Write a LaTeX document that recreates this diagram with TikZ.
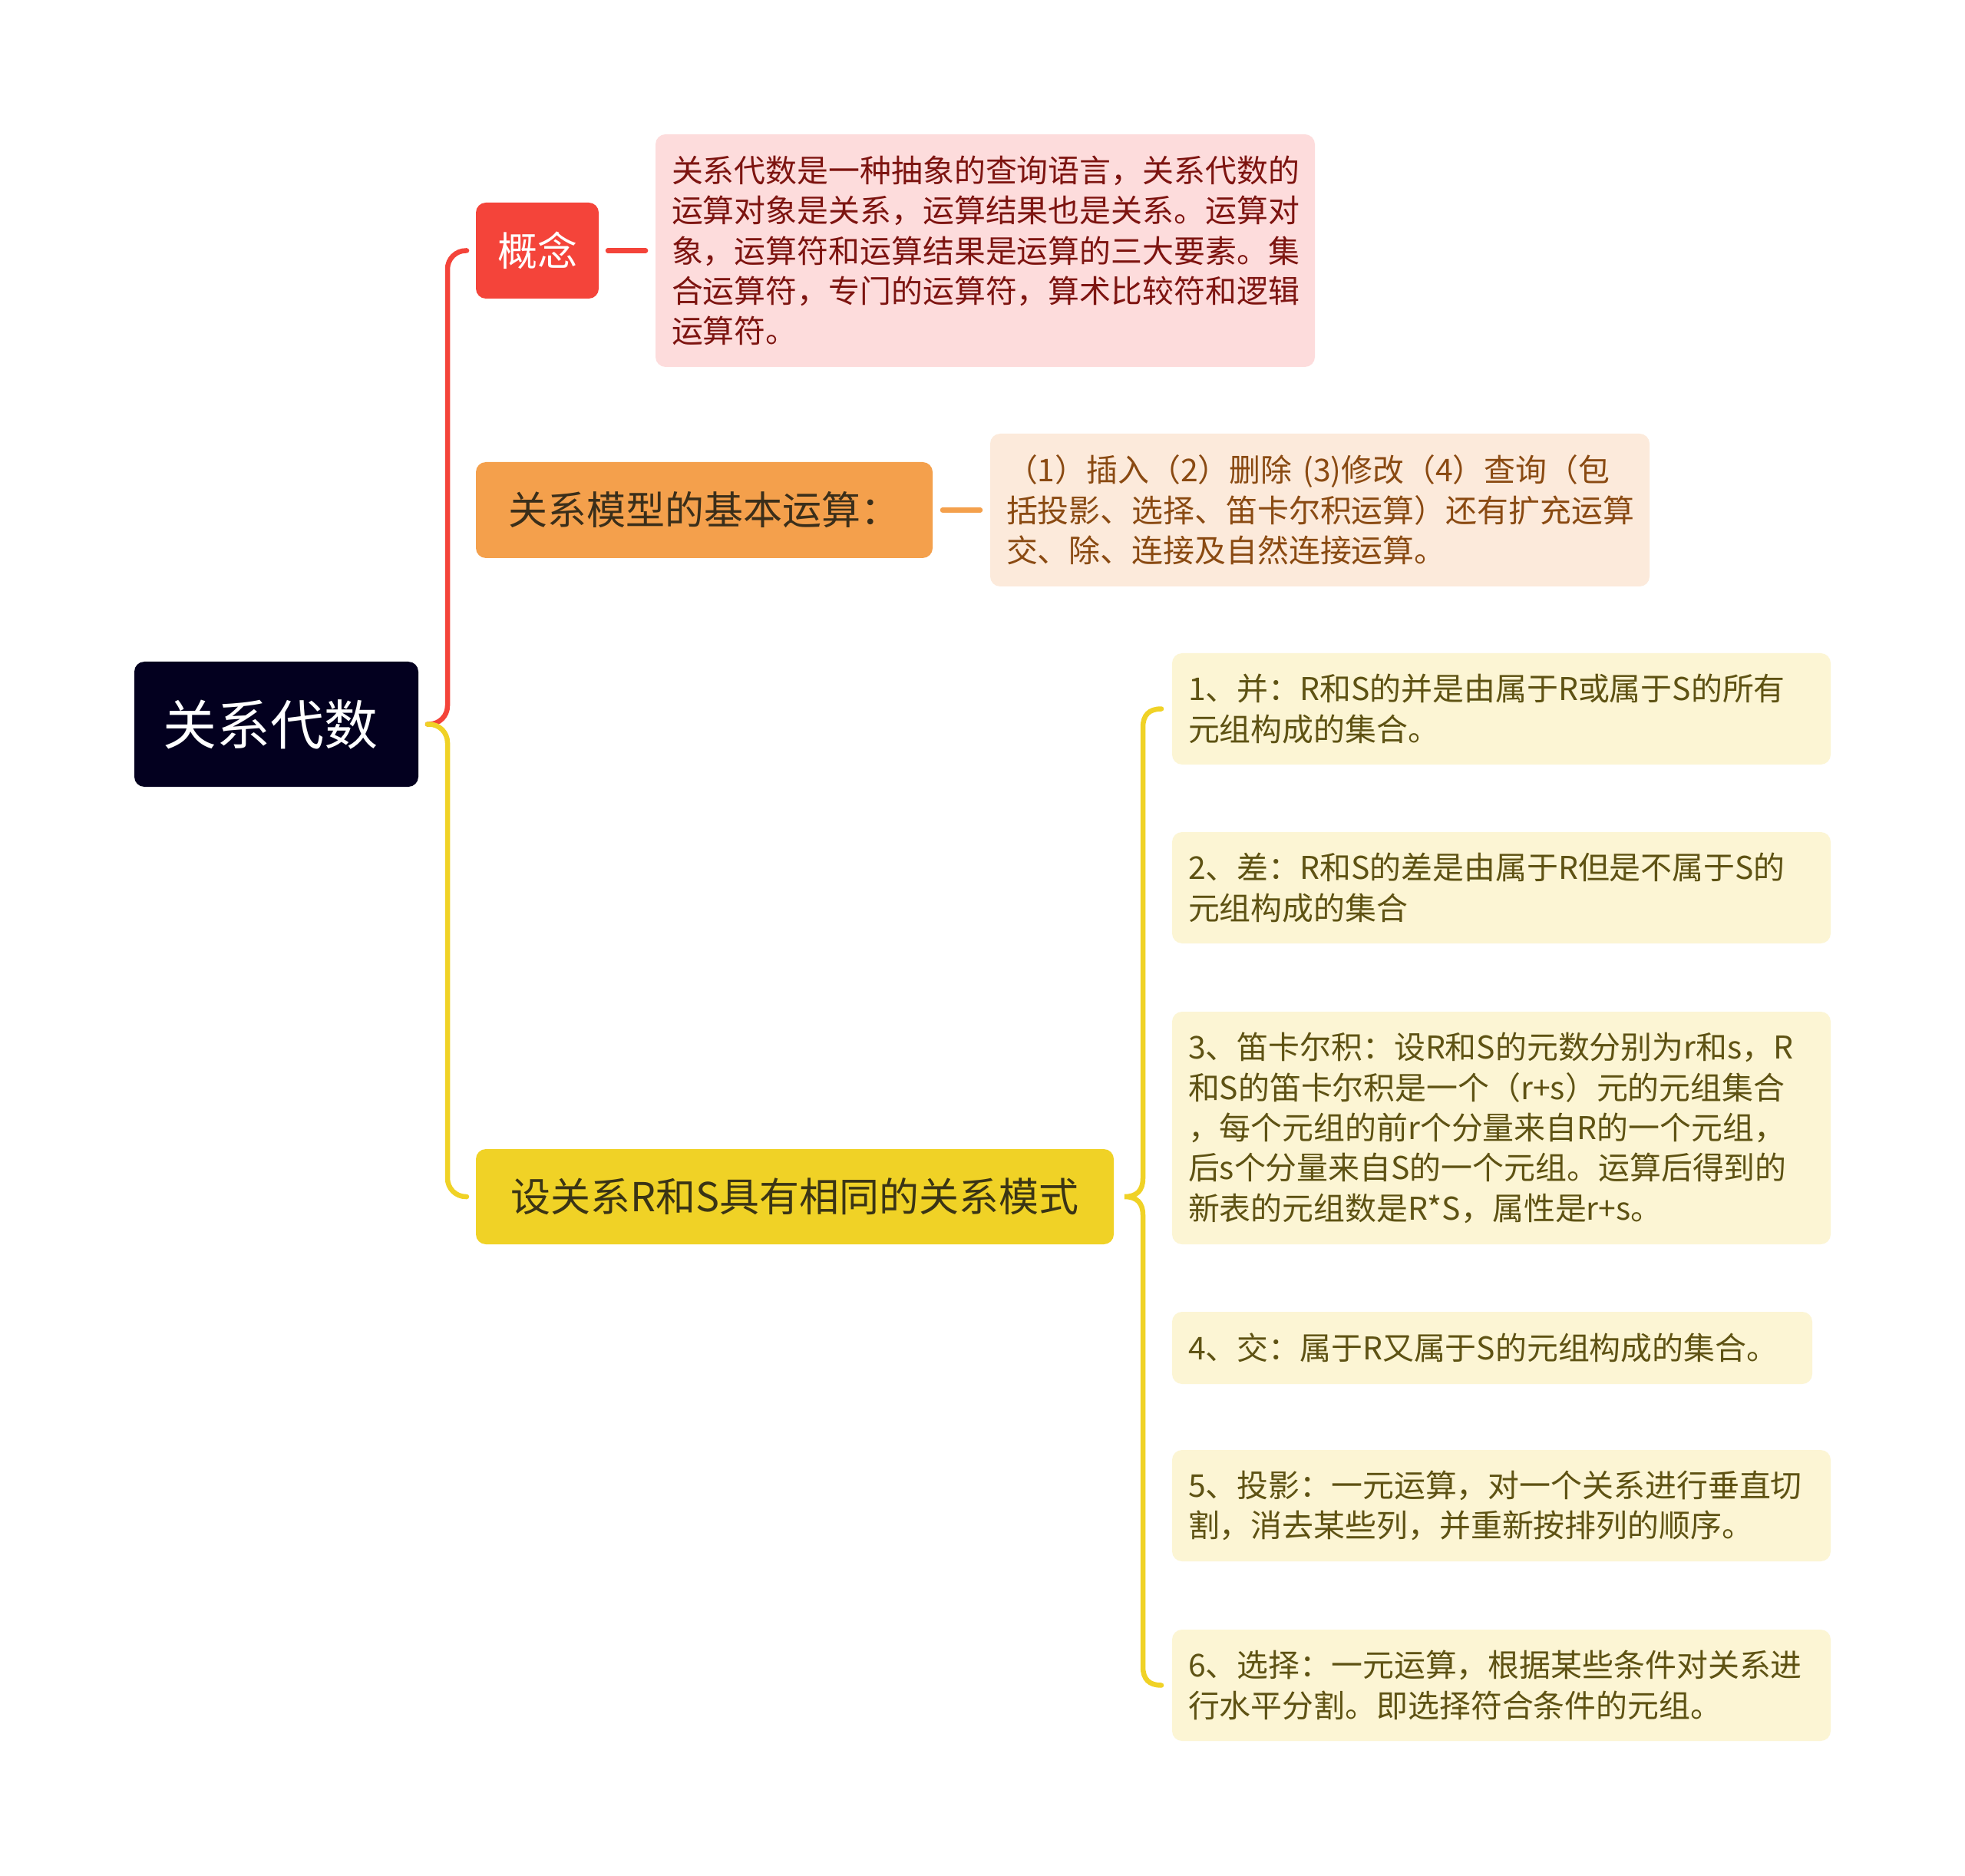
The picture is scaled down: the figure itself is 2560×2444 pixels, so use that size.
\documentclass[tikz,border=0pt]{standalone}
\usepackage{fontspec}
\setmainfont{Noto Sans CJK SC}
\usetikzlibrary{calc}
\definecolor{rootc}{HTML}{03001F}
\definecolor{redc}{HTML}{F4443A}
\definecolor{orgc}{HTML}{F4A04C}
\definecolor{ylwc}{HTML}{F0D226}
\definecolor{pinkfill}{HTML}{FDDCDC}
\definecolor{pinktext}{HTML}{7D1410}
\definecolor{peachfill}{HTML}{FCEADB}
\definecolor{peachtext}{HTML}{8A4A12}
\definecolor{creamfill}{HTML}{FCF5D4}
\definecolor{creamtext}{HTML}{5E5213}
\definecolor{darktext}{HTML}{3A2E1A}
\definecolor{ylwtext}{HTML}{3A3415}
\begin{document}
\begin{tikzpicture}[x=0.5pt,y=-0.5pt,
  box/.style={rounded corners=6.5pt, inner sep=0pt, outer sep=0pt},
  topic/.style={box, align=center},
  desc/.style={box, align=left, inner xsep=10.5pt, text width=#1,
    font=\fontsize{20.45}{26.2}\selectfont},
  child/.style={desc=#1, fill=creamfill, text=creamtext},
  redln/.style={draw=redc, line width=3.25pt, line cap=round},
  orgln/.style={draw=orgc, line width=3.25pt, line cap=round},
  ylwln/.style={draw=ylwc, line width=3.25pt, line cap=round}]
\path[use as bounding box, fill=white] (0,0) rectangle (2560,2444);

% root
\node[topic, fill=rootc, text=white, minimum width=185pt, minimum height=81.5pt,
  font=\fontsize{35}{40}\selectfont] (root) at (360,943.5) {\makebox[140pt][l]{\hspace*{-4pt}关系代数}};

% level 1
\node[topic, fill=redc, text=white, minimum width=80pt, minimum height=62.5pt,
  font=\fontsize{26}{30}\selectfont] (gn) at (700,326.5) {概念};
\node[topic, fill=orgc, text=darktext, minimum width=297.5pt, minimum height=62.5pt,
  font=\fontsize{25.5}{30}\selectfont] (om) at (917.5,664.5) {关系模型的基本运算：};
\node[topic, fill=ylwc, text=ylwtext, minimum width=415.5pt, minimum height=62pt,
  font=\fontsize{26}{30}\selectfont] (sd) at (1035.5,1559) {设关系R和S具有相同的关系模式};

% level 2
\node[desc=408.5pt, fill=pinkfill, text=pinktext, minimum height=151.5pt] (gd) at (1283.5,326.5)
  {关系代数是一种抽象的查询语言，关系代数的\\运算对象是关系，运算结果也是关系。运算对\\象，运算符和运算结果是运算的三大要素。集\\合运算符，专门的运算符，算术比较符和逻辑\\运算符。};
\node[desc=408.5pt, fill=peachfill, text=peachtext, minimum height=99.5pt] (od) at (1719.5,664.5)
  {（1）插入（2）删除 (3)修改（4）查询（包\\括投影、选择、笛卡尔积运算）还有扩充运算\\交、除、连接及自然连接运算。};

\node[child=408pt, minimum height=72.5pt] (c1) at (1956,923.5)
  {1、并：R和S的并是由属于R或属于S的所有\\元组构成的集合。};
\node[child=408pt, minimum height=72.5pt] (c2) at (1956,1156.5)
  {2、差：R和S的差是由属于R但是不属于S的\\元组构成的集合};
\node[child=408pt, minimum height=151.5pt] (c3) at (1956,1469.5)
  {3、笛卡尔积：设R和S的元数分别为r和s，R\\和S的笛卡尔积是一个（r+s）元的元组集合\\，每个元组的前r个分量来自R的一个元组，\\后s个分量来自S的一个元组。运算后得到的\\新表的元组数是R*S，属性是r+s。};
\node[child=396pt, minimum height=47pt] (c4) at (1944,1756)
  {4、交：属于R又属于S的元组构成的集合。};
\node[child=408pt, minimum height=72.5pt] (c5) at (1956,1961.5)
  {5、投影：一元运算，对一个关系进行垂直切\\割，消去某些列，并重新按排列的顺序。};
\node[child=408pt, minimum height=72.5pt] (c6) at (1956,2195.5)
  {6、选择：一元运算，根据某些条件对关系进\\行水平分割。即选择符合条件的元组。};

% connectors root -> level 1
\draw[redln, rounded corners=12pt] ([xshift=6pt]root.east) -| ($(gn.west)+(-18.5pt,0)$) -- ([xshift=-6pt]gn.west);
\draw[ylwln, rounded corners=12pt] ([xshift=6pt]root.east) -| ($(sd.west)+(-18.5pt,0)$) -- ([xshift=-6pt]sd.west);

% level 1 -> level 2
\draw[redln] ([xshift=6pt]gn.east) -- ([xshift=-6.5pt]gd.west);
\draw[orgln] ([xshift=6.5pt]om.east) -- ([xshift=-6.5pt]od.west);

% brace
\coordinate (bt) at ([xshift=-7pt]c1.west);
\coordinate (bb) at ([xshift=-7pt]c6.west);
\coordinate (tip) at ([xshift=7pt]sd.east);
\draw[ylwln] (bt) .. controls ($(bt)+(-16,0)$) and ($(bt)+(-24,8)$) .. ($(bt)+(-24,24)$)
  -- ($(tip)+(24,-24)$) .. controls ($(tip)+(24,-8)$) and ($(tip)+(16,0)$) .. (tip)
  .. controls ($(tip)+(16,0)$) and ($(tip)+(24,8)$) .. ($(tip)+(24,24)$)
  -- ($(bb)+(-24,-24)$) .. controls ($(bb)+(-24,-8)$) and ($(bb)+(-16,0)$) .. (bb);
\end{tikzpicture}
\end{document}
